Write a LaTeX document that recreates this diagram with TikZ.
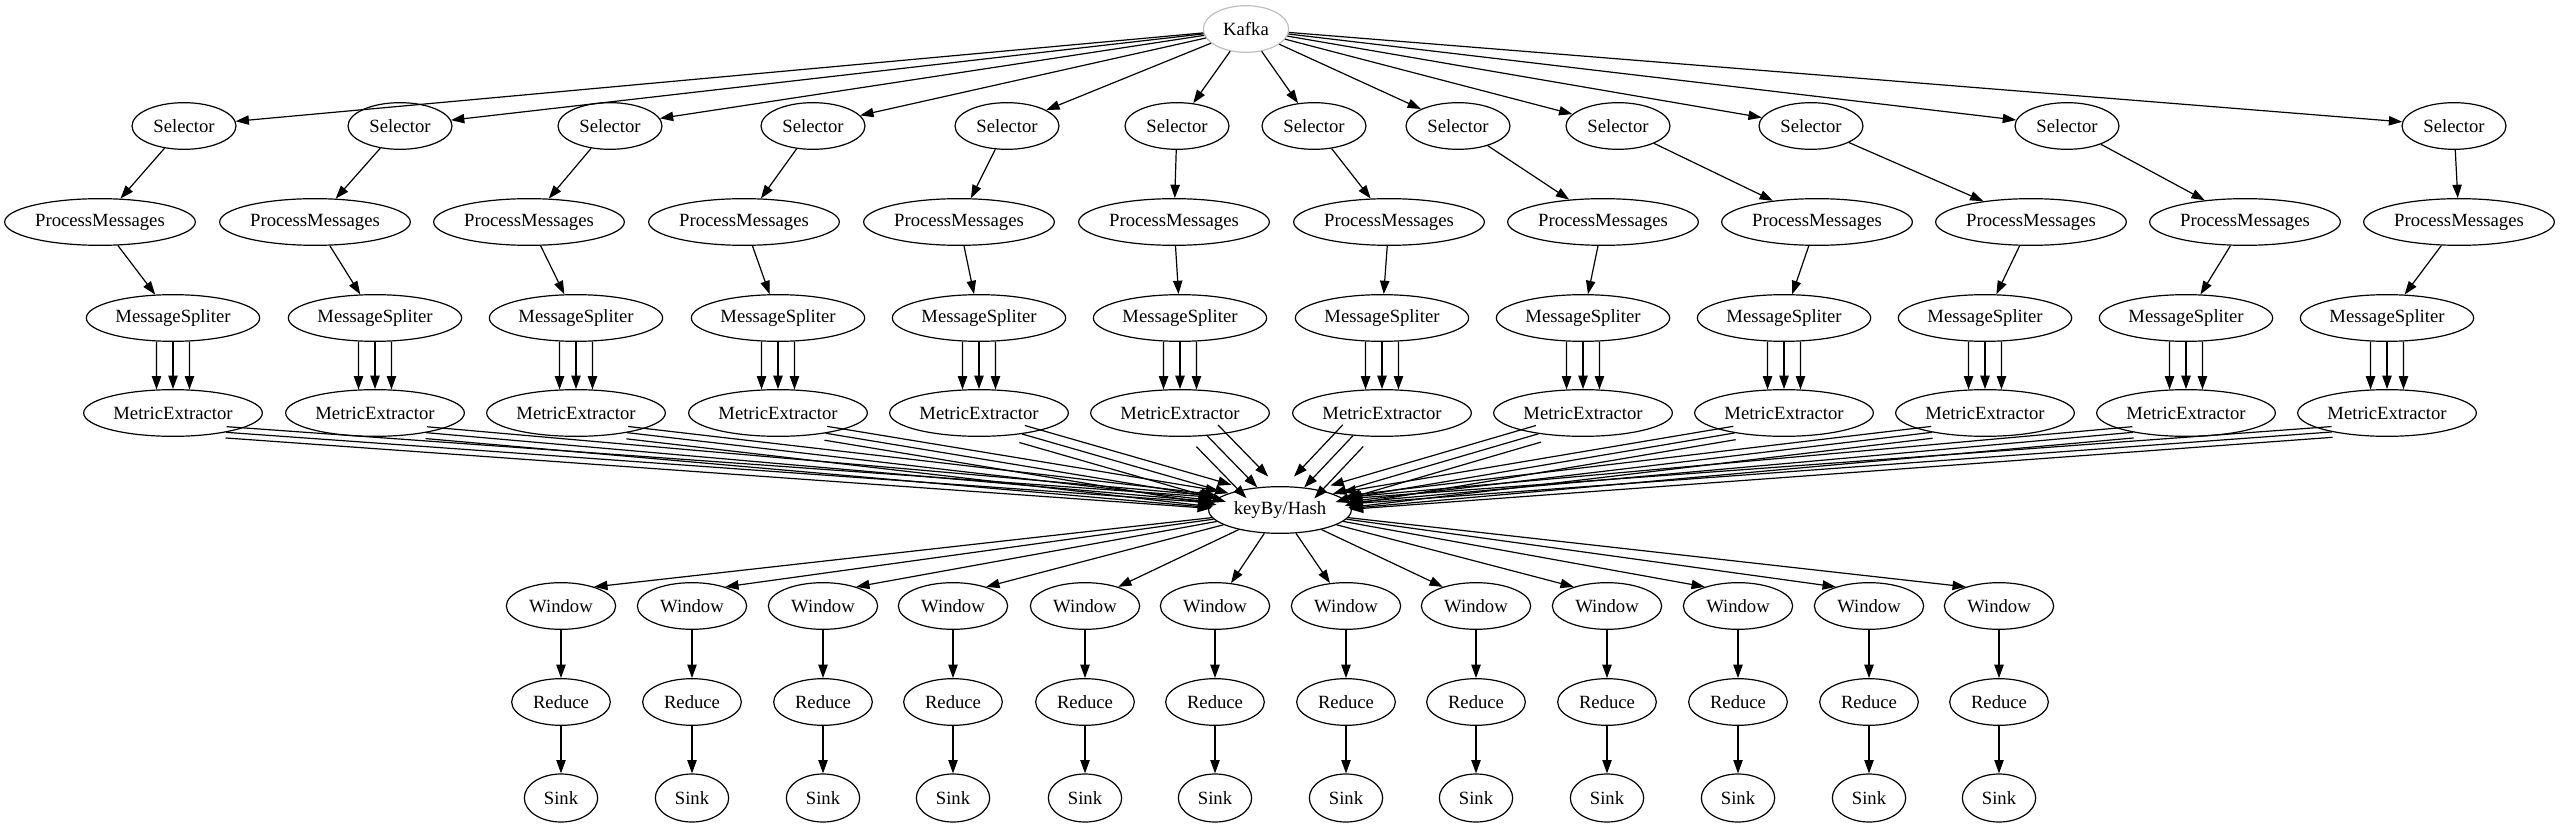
\documentclass[tikz,border=0pt]{standalone}
\usepackage{fontspec}
\setmainfont{Liberation Serif}
\usetikzlibrary{shapes.geometric,arrows.meta}

\tikzset{
  op/.style={ellipse, draw, line width=0.9pt, inner sep=0pt, minimum height=35pt, font=\fontsize{14}{16}\selectfont},
  flow/.style={-{Triangle[length=10pt,width=7pt]}, line width=0.9pt},
}

\begin{document}
\begin{tikzpicture}[x=0.75pt, y=-0.75pt]
\useasboundingbox (0,0) rectangle (2563,827);

\node[op, draw=black!25, minimum width=64pt] (kafka) at (1246,29) {Kafka};
\node[op, minimum width=107pt] (kb) at (1280,510) {keyBy/Hash};

\foreach \i/\xs/\xp/\xm in {1/184/100/173, 2/400/315/375, 3/610/529/576, 4/813/744/778, 5/1007/959/979, 6/1177/1174/1180, 7/1314/1389/1382, 8/1458/1603/1583, 9/1618/1817/1784, 10/1811/2031/1985, 11/2067/2245/2186, 12/2454/2459/2387} {
  \node[op, minimum width=78pt] (sel\i) at (\xs,126) {Selector};
  \node[op, minimum width=143pt] (pm\i) at (\xp,222) {ProcessMessages};
  \node[op, minimum width=130pt] (ms\i) at (\xm,318) {MessageSpliter};
  \node[op, minimum width=134pt] (me\i) at (\xm,413) {MetricExtractor};

  \draw[flow] (kafka) -- (sel\i);
  \draw[flow] (sel\i) -- (pm\i);
  \draw[flow] (pm\i) -- (ms\i);
  \draw[flow] (ms\i.235) -- (me\i.125);
  \draw[flow] (ms\i) -- (me\i);
  \draw[flow] (ms\i.305) -- (me\i.55);

  \pgfmathsetmacro{\dx}{1280-\xm}
  \pgfmathsetmacro{\tilt}{atan2(97,abs(\dx))}
  \pgfmathtruncatemacro{\ang}{mod(atan2(-97,\dx)+360,360)}
  \pgfmathtruncatemacro{\back}{mod(\ang+180,360)}
  \pgfmathtruncatemacro{\start}{\dx>0 ? 360-(0.5*\tilt+17) : 180+(0.5*\tilt+17)}
  \pgfmathsetmacro{\gap}{3+12*abs(sin(\ang))}
  \foreach \j in {-1,0,1} {
    \pgfmathsetmacro{\ox}{-\j*\gap*sin(\ang)}
    \pgfmathsetmacro{\oy}{\j*\gap*cos(\ang)}
    \draw[flow] ([shift={(\ox pt,\oy pt)}]me\i.\start) -- ([shift={(\ox pt,\oy pt)}]kb.\back);
  }
}

\foreach \i/\xw/\tip in {1/561/30, 2/692/30, 3/823/30, 4/953/30, 5/1085/30, 6/1215/55, 7/1346/125, 8/1476/150, 9/1607/150, 10/1738/150, 11/1869/150, 12/1999/150} {
  \node[op, minimum width=82pt] (win\i) at (\xw,606) {Window};
  \node[op, minimum width=74pt] (red\i) at (\xw,702) {Reduce};
  \node[op, minimum width=55pt, minimum height=36pt] (snk\i) at (\xw,798) {Sink};

  \draw[flow] (kb) -- (win\i.\tip);
  \draw[flow] (win\i) -- (red\i);
  \draw[flow] (red\i) -- (snk\i);
}
\end{tikzpicture}
\end{document}
